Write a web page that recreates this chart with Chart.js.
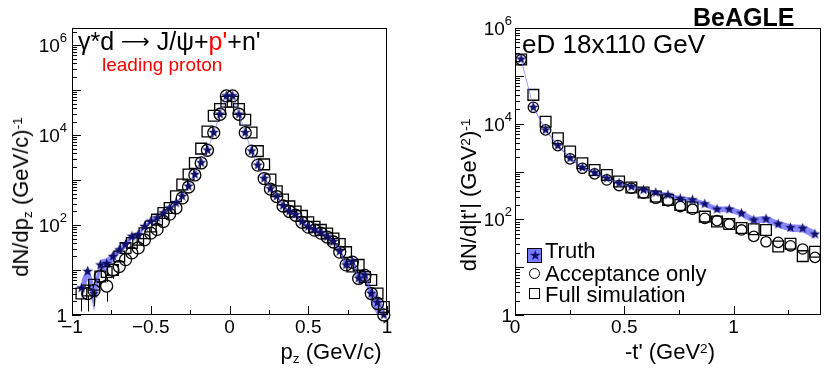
<!DOCTYPE html>
<html><head><meta charset="utf-8">
<script src="https://cdn.jsdelivr.net/npm/chart.js@4/dist/chart.umd.min.js"></script>
<style>
body{margin:0;background:#fff;width:830px;height:375px;overflow:hidden;position:relative;font-family:'Liberation Sans',Arial,Helvetica,sans-serif;}
canvas{position:absolute;top:0;}
#c1{left:0;}
#c2{left:420px;}
.t{position:absolute;white-space:nowrap;color:#000;line-height:1;z-index:5;}
.sup{position:relative;top:-0.45em;font-size:0.62em;}
.sub{position:relative;top:0.3em;font-size:0.62em;}
.rot{transform:translate(-50%,-50%) rotate(-90deg);}
.ctr{transform:translateX(-50%);}
</style></head><body>
<canvas id="c1" width="400" height="375"></canvas>
<canvas id="c2" width="410" height="375"></canvas>

<div class="t" style="left:78px;top:29px;font-size:25px;">γ*d <span style="font-family:'DejaVu Sans';font-size:20px;position:relative;top:-2px;">⟶</span> J/ψ+<span style="color:#f00">p'</span>+n'</div>
<div class="t" style="left:102px;top:55px;font-size:19px;color:#f00;">leading proton</div>
<div class="t rot" style="left:21px;top:197px;font-size:22px;">dN/dp<span class="sub">z</span> (GeV/c)<span class="sup">-1</span></div>
<div class="t ctr" style="left:331px;top:341px;font-size:22px;">p<span class="sub">z</span> (GeV/c)</div>

<div class="t" style="left:522px;top:31px;font-size:26px;">eD 18x110 GeV</div>
<div class="t" style="left:693px;top:5px;font-size:25px;font-weight:bold;">BeAGLE</div>
<div class="t rot" style="left:469px;top:195px;font-size:22px;">dN/d|t'| (GeV<span class="sup">2</span>)<span class="sup">-1</span></div>
<div class="t ctr" style="left:670px;top:341px;font-size:22px;">-t' (GeV<span class="sup">2</span>)</div>

<div class="t" style="left:527px;top:248px;width:13px;height:13px;border:1px solid #000;background:#7a7aff;"></div>
<div class="t" style="left:528px;top:248px;width:14px;height:14px;font-size:14px;line-height:15px;text-align:center;color:#10106a;">★</div>
<div class="t" style="left:545px;top:240px;font-size:22px;">Truth</div>
<div class="t" style="left:529px;top:268px;width:9px;height:9px;border:1.3px solid #000;border-radius:50%;"></div>
<div class="t" style="left:545px;top:263px;font-size:22px;">Acceptance only</div>
<div class="t" style="left:529px;top:288px;width:9px;height:9px;border:1.3px solid #000;"></div>
<div class="t" style="left:545px;top:284px;font-size:22px;">Full simulation</div>

<script>
// ---------------- data: left panel (p_z) ----------------
const pzBins = [-0.98,-0.94,-0.90,-0.86,-0.82,-0.78,-0.74,-0.70,-0.66,-0.62,-0.58,-0.54,-0.50,-0.46,-0.42,-0.38,-0.34,-0.30,-0.26,-0.22,-0.18,-0.14,-0.10,-0.06,-0.02,
                 0.02,0.06,0.10,0.14,0.18,0.22,0.26,0.30,0.34,0.38,0.42,0.46,0.50,0.54,0.58,0.62,0.66,0.70,0.74,0.78,0.82,0.86,0.90,0.94,0.98];
const truthPz = [null,4,9.3,3,13,14,20,28,37,56,61,93,121,144,186,240,310,437,731,1334,2430,4650,11400,29100,74600,
                 74600,29100,11400,4420,2150,1090,640,437,271,202,171,119,92,79,68,55,43,26,13,15.5,6.6,7.8,3.0,1.9,1.0];
const accPz   = [null,null,3.0,3.5,7.2,4.4,10,12,17,24,31,47,66,80,120,175,240,400,700,1300,2400,4600,11300,29000,74000,
                 74000,29000,11300,4400,2150,1080,630,430,265,200,165,115,90,77,66,54,42,25,13,15,6.5,7.6,3.0,1.8,1.0];
const fullPz  = [null,3.0,3.5,4.7,7.2,9,10,20,31,40,47,66,93,132,186,240,437,800,1330,2400,5000,12000,27000,38000,55000,
                 55000,38000,22000,11400,4400,2230,1030,565,370,260,200,160,115,92,78,65,50,38,25,12,13,7,6,3,1.5];
const truthPzRelErr = [0,0.5,0.35,0.6,0.3,0.3,0.25,0.2,0.18,0.15,0.15,0.12,0.1,0.08,0.07,0.06,0.05,0.04,0.03,0.02,0.02,0.01,0.01,0.01,0.01,
                       0.01,0.01,0.01,0.01,0.02,0.02,0.03,0.04,0.05,0.06,0.06,0.07,0.08,0.09,0.1,0.1,0.12,0.15,0.2,0.2,0.3,0.3,0.4,0.5,0.5];
const accPzRelErr  = [0,0,0.6,0.55,0.45,0.55,0.35,0.3,0.25,0,0,0,0,0,0,0,0,0,0,0,0,0,0,0,0,0,0,0,0,0,0,0,0,0,0,0,0,0,0,0,0,0,0,0,0,0,0,0,0,0];
const fullPzRelErr = [0,0.6,0.55,0.5,0.45,0.4,0.35,0.25,0,0,0,0,0,0,0,0,0,0,0,0,0,0,0,0,0,0,0,0,0,0,0,0,0,0,0,0,0,0,0,0,0,0,0,0,0,0,0,0,0,0];
const pzTickVals = [-1,-0.5,0,0.5,1];
const pzTickLabels = ['\u22121','\u22120.5','0','0.5','1'];
const pzMinorTicks = [-0.75,-0.25,0.25,0.75];

// ---------------- data: right panel (-t') ----------------
const tBins = [0.028,0.084,0.140,0.196,0.252,0.308,0.364,0.420,0.476,0.532,0.588,0.644,0.700,0.756,0.812,0.868,0.924,0.980,1.036,1.092,1.148,1.204,1.260,1.316,1.372];
const truthT = [224000,22000,7400,3480,1900,1210,950,724,569,484,412,362,324,272,255,210,163,163,134,97,102,80,67,65,49];
const accT   = [216000,22000,7400,3480,1840,1170,891,667,508,447,352,276,243,185,163,105,94,80,60,44,34,33,28,24,16];
const fullT  = [220000,40000,11000,4970,2610,1490,1080,849,616,461,363,299,255,200,179,114,90,80,66,62,60,27,31,17,21];
const truthTRelErr = [0.02,0.03,0.03,0.04,0.05,0.05,0.06,0.07,0.08,0.08,0.09,0.1,0.1,0.12,0.12,0.13,0.14,0.14,0.15,0.16,0.16,0.17,0.18,0.18,0.2];
const tTickVals = [0,0.5,1];
const tTickLabels = ['0','0.5','1'];
const tMinorTicks = [0.25,0.75,1.25];

const yTickVals = [1,1e2,1e4,1e6];
const yTickLabels = ['1','10^2','10^4','10^6'];

// ---------------- styling helpers ----------------
function makeStar(r, color){
  const s = Math.ceil(2*r+2), c = document.createElement('canvas');
  c.width = s; c.height = s;
  const g = c.getContext('2d');
  g.fillStyle = color; g.beginPath();
  for (let i=0;i<10;i++){
    const ang = -Math.PI/2 + i*Math.PI/5, rr = (i%2) ? r*0.42 : r;
    g.lineTo(s/2 + rr*Math.cos(ang), s/2 + rr*Math.sin(ang));
  }
  g.closePath(); g.fill();
  return c;
}
const starImg = makeStar(5.5, '#10106a');
const FONT = "'Liberation Sans', Arial, Helvetica, sans-serif";

const rootAxes = {
  id: 'rootAxes',
  afterDatasetsDraw(chart){
    const {ctx, chartArea:a, scales:{x,y}} = chart;
    ctx.save();
    ctx.beginPath(); ctx.rect(a.left, a.top, a.right-a.left, a.bottom-a.top); ctx.clip();
    ctx.strokeStyle = '#000'; ctx.lineWidth = 1;
    chart.data.datasets.forEach(ds => {
      if (!ds.errRel) return;
      const r = ds.barGap || 6;
      ds.data.forEach((p,i) => {
        const e = ds.errRel[i];
        if (!e || p.y == null) return;
        const px = Math.round(x.getPixelForValue(p.x)) + 0.5;
        const pc = y.getPixelForValue(p.y);
        const pt = y.getPixelForValue(p.y*(1+e));
        const pb = y.getPixelForValue(Math.max(p.y*(1-e), 0.01));
        ctx.beginPath();
        ctx.moveTo(px, pt); ctx.lineTo(px, pc - r);
        ctx.moveTo(px, pc + r); ctx.lineTo(px, pb);
        ctx.stroke();
      });
    });
    ctx.restore();
  },
  afterDraw(chart, args, o){
    const {ctx, chartArea:a, scales:{x,y}} = chart;
    ctx.save();
    ctx.strokeStyle = '#000'; ctx.lineWidth = 1;
    const L = Math.round(a.left), T = Math.round(a.top), R = Math.round(a.right), B = Math.round(a.bottom);
    ctx.strokeRect(L+0.5, T+0.5, R-L-1, B-T-1);
    ctx.beginPath();
    o.xMajor.forEach(v => { const px = Math.round(x.getPixelForValue(v))+0.5; ctx.moveTo(px,B); ctx.lineTo(px,B-9); });
    o.xMinor.forEach(v => { const px = Math.round(x.getPixelForValue(v))+0.5; ctx.moveTo(px,B); ctx.lineTo(px,B-5); });
    for (let d=0; d<=6; d++) for (let k=1; k<=9; k++){
      const v = k*Math.pow(10,d);
      if (v > y.max) break;
      const py = Math.round(y.getPixelForValue(v))+0.5;
      ctx.moveTo(L, py); ctx.lineTo(L + (k===1?9:5), py);
    }
    ctx.stroke();
    ctx.fillStyle = '#000';
    ctx.font = '19px ' + FONT;
    ctx.textAlign = 'center'; ctx.textBaseline = 'top';
    o.xMajor.forEach((v,i) => ctx.fillText(o.xLabels[i], x.getPixelForValue(v), B+3));
    ctx.textBaseline = 'alphabetic';
    yTickVals.forEach((v,i) => {
      const lab = yTickLabels[i], py = y.getPixelForValue(v);
      const [base, ex] = lab.split('^');
      ctx.font = '19px ' + FONT;
      const wb = ctx.measureText(base).width;
      let we = 0;
      if (ex){ ctx.font = '13px ' + FONT; we = ctx.measureText(ex).width; }
      const x0 = L - o.yPad - wb - we;
      ctx.textAlign = 'left';
      ctx.font = '19px ' + FONT;
      ctx.fillText(base, x0, py + 7);
      if (ex){ ctx.font = '13px ' + FONT; ctx.fillText(ex, x0 + wb, py - 3); }
    });
    ctx.restore();
  }
};

function pts(xs, ys){ return xs.map((x,i) => ({x, y: ys[i]})); }
function band(xs, ys, errs, sign){ return xs.map((x,i) => ({x, y: ys[i]==null ? null : ys[i]*(1+sign*errs[i])})); }

function makeChart(id, cfg){
  return new Chart(document.getElementById(id), {
    type: 'line',
    data: { datasets: [
      { data: pts(cfg.xs, cfg.truth), pointStyle: starImg, pointRadius: 5.5, showLine: true,
        borderColor: 'rgba(120,120,255,0.6)', borderWidth: 1, spanGaps: true, order: 0, clip: false },
      { data: pts(cfg.xs, cfg.acc), pointStyle: 'circle', pointRadius: cfg.rc, showLine: false,
        pointBorderColor: '#000', pointBackgroundColor: 'rgba(0,0,0,0)', pointBorderWidth: 1.3, order: 1, clip: false,
        errRel: cfg.accErr, barGap: cfg.rc },
      { data: pts(cfg.xs, cfg.full), pointStyle: 'rect', pointRadius: 7.6, showLine: false,
        pointBorderColor: '#000', pointBackgroundColor: 'rgba(0,0,0,0)', pointBorderWidth: 1.3, order: 2, clip: false,
        errRel: cfg.fullErr, barGap: 5.4 },
      { data: band(cfg.xs, cfg.truth, cfg.truthErr, 1), pointRadius: 0, borderWidth: 0, showLine: true,
        fill: '+1', backgroundColor: 'rgba(90,90,255,0.7)', spanGaps: true, order: 3 },
      { data: band(cfg.xs, cfg.truth, cfg.truthErr, -1), pointRadius: 0, borderWidth: 0, showLine: true,
        fill: false, spanGaps: true, order: 4 }
    ]},
    options: {
      responsive: false, animation: false, events: [],
      layout: { padding: { top: 28, right: cfg.padR, left: 0, bottom: 0 } },
      plugins: { legend: { display: false }, tooltip: { enabled: false },
        rootAxes: { xMajor: cfg.xMajor, xMinor: cfg.xMinor, xLabels: cfg.xLabels, yPad: cfg.yPad } },
      scales: {
        x: { type: 'linear', min: cfg.xmin, max: cfg.xmax, grid: { display: false }, border: { display: false },
             ticks: { display: false }, afterFit(s){ s.height = 60; } },
        y: { type: 'logarithmic', min: 1, max: cfg.ymax, grid: { display: false }, border: { display: false },
             ticks: { display: false }, afterFit(s){ s.width = cfg.yw; } }
      }
    },
    plugins: [rootAxes]
  });
}

makeChart('c1', { xs: pzBins, truth: truthPz, acc: accPz, full: fullPz, truthErr: truthPzRelErr,
  accErr: accPzRelErr, fullErr: fullPzRelErr, rc: 6, xmin: -1, xmax: 1, ymax: 2.4e6, yw: 72, padR: 13,
  xMajor: pzTickVals, xMinor: pzMinorTicks, xLabels: pzTickLabels, yPad: 5 });
makeChart('c2', { xs: tBins, truth: truthT, acc: accT, full: fullT, truthErr: truthTRelErr,
  accErr: null, fullErr: null, rc: 5.2, xmin: 0, xmax: 1.4, ymax: 1e6, yw: 95, padR: 4,
  xMajor: tTickVals, xMinor: tMinorTicks, xLabels: tTickLabels, yPad: 3 });
</script>
</body></html>
